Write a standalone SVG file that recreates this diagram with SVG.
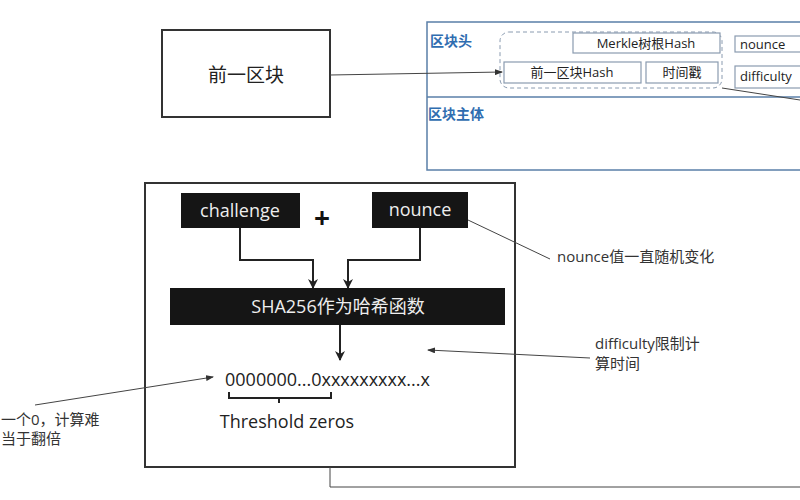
<svg xmlns="http://www.w3.org/2000/svg" width="800" height="500" viewBox="0 0 800 500">
<defs>
<style>
text{font-family:"Open Sans","Noto Sans CJK SC",sans-serif;}
.thin{fill:none;stroke:#444;stroke-width:1}
.cell{fill:#fff;stroke:#8a9bb0;stroke-width:1.2}
.ct{font-size:13px;fill:#222;text-anchor:middle}
.blue{font-size:14px;font-weight:bold;fill:#2f6db0}
.blk{fill:#151515}
.wt{fill:#eee;font-size:18px;text-anchor:middle}
.lbl{font-size:15px;fill:#333}
.thick{fill:none;stroke:#222;stroke-width:2}
</style>
<marker id="a" markerWidth="8" markerHeight="6" refX="7" refY="3" orient="auto"><path d="M0,0L8,3L0,6z" fill="#333"/></marker>
<marker id="b" markerWidth="10" markerHeight="10" refX="9" refY="5" orient="auto" markerUnits="userSpaceOnUse"><path d="M0,0L10,5L0,10L3,5z" fill="#222"/></marker>
</defs>
<rect width="800" height="500" fill="#fff"/>
<g id="prev"><rect x="162" y="30" width="168" height="87" fill="#fff" stroke="#333" stroke-width="2"/><text x="246" y="82" font-size="19" text-anchor="middle" fill="#222">前一区块</text></g>
<g id="block">
<rect x="427" y="22" width="380" height="148" fill="#fff" stroke="#5a7fa8" stroke-width="1.5"/>
<line x1="427" y1="97" x2="800" y2="97" stroke="#5a7fa8" stroke-width="1.5"/>
<text x="430" y="46" class="blue">区块头</text>
<text x="428" y="119" class="blue">区块主体</text>
<rect x="500" y="32" width="222" height="56" rx="9" fill="none" stroke="#8a9bb0" stroke-dasharray="4,3"/>
<rect x="573" y="33" width="147" height="20" class="cell"/><text x="646" y="48" class="ct">Merkle树根Hash</text>
<rect x="504" y="62" width="137" height="21" class="cell"/><text x="572" y="77" class="ct">前一区块Hash</text>
<rect x="646" y="62" width="72" height="21" class="cell"/><text x="682" y="77" class="ct">时间戳</text>
<rect x="735" y="36" width="75" height="16" class="cell"/><text x="740" y="49" font-size="13" fill="#222">nounce</text>
<rect x="735" y="66" width="75" height="22" class="cell"/><text x="740" y="81" font-size="13" fill="#222">difficulty</text>
</g>
<g id="pow">
<rect x="145" y="183" width="370" height="284" fill="none" stroke="#333" stroke-width="2"/>
<rect x="181" y="193" width="119" height="35" class="blk"/><text x="240" y="217" class="wt">challenge</text>
<text x="322" y="228" font-size="28" font-weight="bold" text-anchor="middle" fill="#111">+</text>
<rect x="372" y="192" width="96" height="36" class="blk"/><text x="420" y="216" class="wt">nounce</text>
<rect x="170" y="288" width="335" height="37" class="blk"/><text x="338" y="313" class="wt">SHA256作为哈希函数</text>
<text x="225" y="386" font-size="18" fill="#222">0000000...0xxxxxxxxx...x</text>
<path d="M229,392v6h50v5M279,398h52v-6" class="thick"/>
<text x="287" y="428" font-size="18" text-anchor="middle" fill="#222">Threshold zeros</text>
</g>
<g id="labels">
<text x="557" y="262" class="lbl">nounce值一直随机变化</text>
<text x="595" y="349" class="lbl">difficulty限制计</text>
<text x="595" y="369" class="lbl">算时间</text>
<text x="1" y="425" class="lbl">一个0，计算难</text>
<text x="1" y="444" class="lbl">当于翻倍</text>
</g>
<g id="connectors" class="thin">
<line x1="330" y1="75" x2="502" y2="72" marker-end="url(#a)"/>
<line x1="722" y1="88" x2="800" y2="100"/>
<polyline points="330,467 330,487 800,487"/>
<path d="M240,228V260H313V288" class="thick" marker-end="url(#b)"/>
<path d="M420,228V260H348V288" class="thick" marker-end="url(#b)"/>
<path d="M340,325V360" class="thick" marker-end="url(#b)"/>
<line x1="468" y1="220" x2="550" y2="259"/>
<line x1="590" y1="358" x2="428" y2="350" marker-end="url(#a)"/>
<line x1="35" y1="405" x2="213" y2="377" marker-end="url(#a)"/>
</g>
</svg>
